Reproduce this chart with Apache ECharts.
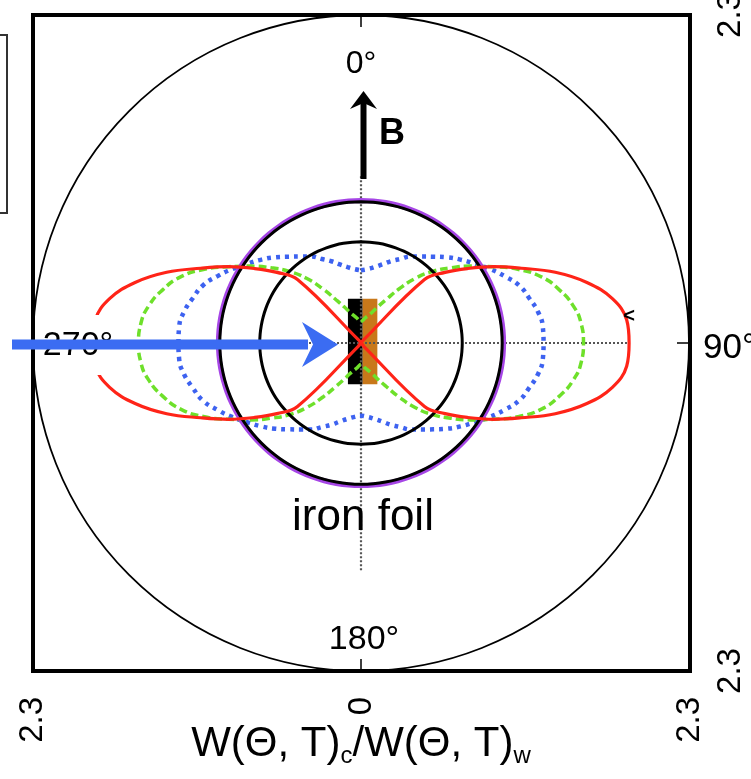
<!DOCTYPE html>
<html><head><meta charset="utf-8">
<script src="https://cdn.jsdelivr.net/npm/echarts@6/dist/echarts.min.js"></script>
<style>html,body{margin:0;padding:0;background:#fff}#c{width:751px;height:779px}</style>
</head><body><div id="c"></div>
<script>
// Angles (degrees, 0 = up along B, clockwise)
const angles = [0,5,10,15,20,25,30,35,40,45,50,55,60,65,70,75,80,85,90,95,100,105,110,115,120,125,130,135,140,145,150,155,160,165,170,175,180,185,190,195,200,205,210,215,220,225,230,235,240,245,250,255,260,265,270,275,280,285,290,295,300,305,310,315,320,325,330,335,340,345,350,355,360];
// W(Θ,T)c / W(Θ,T)w
const redVals = [0,0,0,0,0,0,0,0,0.03,0.63,0.77,0.91,1.07,1.24,1.45,1.64,1.79,1.87,1.88,
  1.87,1.79,1.64,1.45,1.24,1.07,0.91,0.77,0.63,0.03,0,0,0,0,0,0,0,0,
  0,0,0,0,0,0,0,0.03,0.63,0.77,0.91,1.07,1.24,1.45,1.64,1.79,1.87,1.88,
  1.87,1.79,1.64,1.45,1.24,1.07,0.91,0.77,0.63,0.03,0,0,0,0,0,0,0,0];
const greenVals = [0.15,0.16,0.18,0.20,0.23,0.28,0.35,0.46,0.59,0.71,0.82,0.94,1.07,1.22,1.35,1.44,1.51,1.55,1.56,
  1.55,1.51,1.44,1.35,1.22,1.07,0.94,0.82,0.71,0.59,0.46,0.35,0.28,0.23,0.20,0.18,0.16,0.15,
  0.16,0.18,0.20,0.23,0.28,0.35,0.46,0.59,0.71,0.82,0.94,1.07,1.22,1.35,1.44,1.51,1.55,1.56,
  1.55,1.51,1.44,1.35,1.22,1.07,0.94,0.82,0.71,0.59,0.46,0.35,0.28,0.23,0.20,0.18,0.16,0.15];
const blueVals = [0.51,0.52,0.54,0.57,0.61,0.65,0.70,0.74,0.79,0.85,0.91,0.97,1.04,1.11,1.18,1.22,1.26,1.28,1.28,
  1.28,1.26,1.22,1.18,1.11,1.04,0.97,0.91,0.85,0.79,0.74,0.70,0.65,0.61,0.57,0.54,0.52,0.51,
  0.52,0.54,0.57,0.61,0.65,0.70,0.74,0.79,0.85,0.91,0.97,1.04,1.11,1.18,1.22,1.26,1.28,1.28,
  1.28,1.26,1.22,1.18,1.11,1.04,0.97,0.91,0.85,0.79,0.74,0.70,0.65,0.61,0.57,0.54,0.52,0.51];
const isotropicVal = 1.0;   // purple / black ring
const innerRingVal = 0.71;  // inner black ring
const radiusMax = 2.3;
const axisTickLabels = [-2.3, 0, 2.3];
// foil (cartesian units): x edges black|orange, y extent
const foilX = [-0.095, 0.008, 0.111];
const foilY = [-0.29, 0.31];
// dotted guide lines [radius, angle]
const guideH = [[2.3, 270], [1.87, 90]];
const guideV = [[1.17, 0], [1.6, 180]];

const pair = vals => vals.map((v, i) => [v, angles[i]]);
const constRing = v => angles.map(a => [v, a]);

const F = '"Liberation Sans", Arial, sans-serif';
const chart = echarts.init(document.getElementById('c'), null, {renderer: 'canvas'});
const option = {
  animation: false,
  backgroundColor: '#fff',
  grid: {left: 33, top: 15, right: 61, bottom: 108, containLabel: false, outerBoundsMode: 'none',
    show: true, borderColor: '#000', borderWidth: 4, backgroundColor: 'transparent'},
  xAxis: {type: 'value', min: -2.3, max: 2.3, interval: 2.3,
    axisLine: {show: false}, axisTick: {show: false}, splitLine: {show: false},
    axisLabel: {rotate: 90, fontSize: 33, color: '#000', fontFamily: F, margin: 26,
      align: 'right', verticalAlign: 'middle',
      formatter: v => axisTickLabels.some(t => Math.abs(t - v) < 1e-6) ? String(Math.abs(v)) : ''}
  },
  yAxis: {type: 'value', position: 'right', min: -2.3, max: 2.3, interval: 2.3,
    axisLine: {show: false}, axisTick: {show: false}, splitLine: {show: false},
    axisLabel: {rotate: 90, fontSize: 33, color: '#000', fontFamily: F, margin: 24,
      align: 'center', verticalAlign: 'top',
      formatter: v => Math.abs(v) > 1e-6 ? String(Math.abs(v)) : ''}
  },
  polar: {center: [361, 343], radius: 328},
  angleAxis: {type: 'value', min: 0, max: 360, interval: 90, startAngle: 90, clockwise: true,
    axisLine: {lineStyle: {color: '#000', width: 1.8}},
    axisTick: {show: true, inside: true, length: 12, lineStyle: {color: '#000', width: 1.5}},
    axisLabel: {show: false}, splitLine: {show: false}},
  radiusAxis: {type: 'value', min: 0, max: radiusMax,
    axisLine: {show: false}, axisTick: {show: false}, axisLabel: {show: false}, splitLine: {show: false}},
  series: [
    {type: 'custom', coordinateSystem: 'cartesian2d', z: 1, silent: true,
      data: [[foilX[0], foilX[1], foilY[0], foilY[1], '#000000'], [foilX[1], foilX[2], foilY[0], foilY[1], '#c8781a']],
      renderItem: (params, api) => {
        const p0 = api.coord([api.value(0), api.value(3)]);
        const p1 = api.coord([api.value(1), api.value(2)]);
        return {type: 'rect', shape: {x: p0[0], y: p0[1], width: p1[0] - p0[0], height: p1[1] - p0[1]},
          style: {fill: api.value(4)}};
      }},
    {type: 'line', coordinateSystem: 'polar', z: 2, data: guideH, symbol: 'none',
      lineStyle: {color: '#555', width: 2.2, type: [2, 2]}},
    {type: 'line', coordinateSystem: 'polar', z: 2, data: guideV, symbol: 'none',
      lineStyle: {color: '#555', width: 2.2, type: [2, 2]}},
    {type: 'line', coordinateSystem: 'polar', z: 3, data: pair(blueVals), symbol: 'none', smooth: 0.5,
      lineStyle: {color: '#3d62f0', width: 4.5, type: [4, 5]}},
    {type: 'line', coordinateSystem: 'polar', z: 4, data: pair(greenVals), symbol: 'none', smooth: 0.5,
      lineStyle: {color: '#6ee02a', width: 3.5, type: [8, 4]}},
    {type: 'line', coordinateSystem: 'polar', z: 5, data: constRing(isotropicVal), symbol: 'none', smooth: 0.5,
      lineStyle: {color: '#a646e6', width: 5}},
    {type: 'line', coordinateSystem: 'polar', z: 6, data: constRing(isotropicVal - 0.01), symbol: 'none', smooth: 0.5,
      lineStyle: {color: '#000', width: 3}},
    {type: 'line', coordinateSystem: 'polar', z: 6, data: constRing(innerRingVal), symbol: 'none', smooth: 0.5,
      lineStyle: {color: '#000', width: 3}},
    {type: 'line', coordinateSystem: 'polar', z: 7, data: pair(redVals), symbol: 'none', smooth: 0.4,
      lineStyle: {color: '#ff2418', width: 3.2}}
  ],
  graphic: [
    {type: 'rect', shape: {x: -6, y: 35, width: 13, height: 178}, style: {fill: 'none', stroke: '#333', lineWidth: 2}, z: 100},
    {type: 'text', x: 361, y: 64, style: {text: '0°', font: '32px ' + F, fill: '#000', textAlign: 'center', textVerticalAlign: 'middle'}, z: 100},
    {type: 'text', x: 364, y: 640, style: {text: '180°', font: '34px ' + F, fill: '#000', textAlign: 'center', textVerticalAlign: 'middle'}, z: 100},
    {type: 'text', x: 703, y: 348, style: {text: '90°', font: '35px ' + F, fill: '#000', textAlign: 'left', textVerticalAlign: 'middle'}, z: 100},
    {type: 'text', x: 363, y: 518, style: {text: 'iron foil', font: '44px ' + F, fill: '#000', textAlign: 'center', textVerticalAlign: 'middle'}, z: 100},
    {type: 'rect', shape: {x: 40, y: 315, width: 63, height: 60}, style: {fill: '#fff'}, z: 100},
    {type: 'text', x: 78, y: 346, style: {text: '270°', font: '34px ' + F, fill: '#000', textAlign: 'center', textVerticalAlign: 'middle'}, z: 101},
    {type: 'text', x: 629, y: 316, style: {text: '<', font: 'bold 20px ' + F, fill: '#000', textAlign: 'center', textVerticalAlign: 'middle'}, z: 101},
    // axis title
    {type: 'text', x: 361, y: 744, z: 100, style: {
      text: '{a|W(Θ, T)}{s|c}{a|/W(Θ, T)}{s|w}', textAlign: 'center', textVerticalAlign: 'middle',
      rich: {
        a: {fontSize: 42, fontFamily: F, fill: '#000', lineHeight: 48},
        s: {fontSize: 24, fontFamily: F, fill: '#000', lineHeight: 22, verticalAlign: 'bottom'}}}},
    // B field arrow
    {type: 'rect', shape: {x: 360.5, y: 102, width: 6, height: 77}, style: {fill: '#000'}, z: 102},
    {type: 'polygon', shape: {points: [[363.5, 91], [350, 109], [363.5, 103], [377, 109]]}, style: {fill: '#000'}, z: 102},
    {type: 'text', x: 392, y: 134, style: {text: 'B', font: 'bold 36px ' + F, fill: '#000', textAlign: 'center', textVerticalAlign: 'middle'}, z: 102},
    // beam arrow
    {type: 'rect', shape: {x: 12, y: 339.5, width: 296, height: 10}, style: {fill: '#3b6cf2'}, z: 102},
    {type: 'polygon', shape: {points: [[338, 344.5], [302, 322], [313, 344.5], [302, 367]]}, style: {fill: '#3b6cf2'}, z: 102}
  ]
};
chart.setOption(option);
</script></body></html>
